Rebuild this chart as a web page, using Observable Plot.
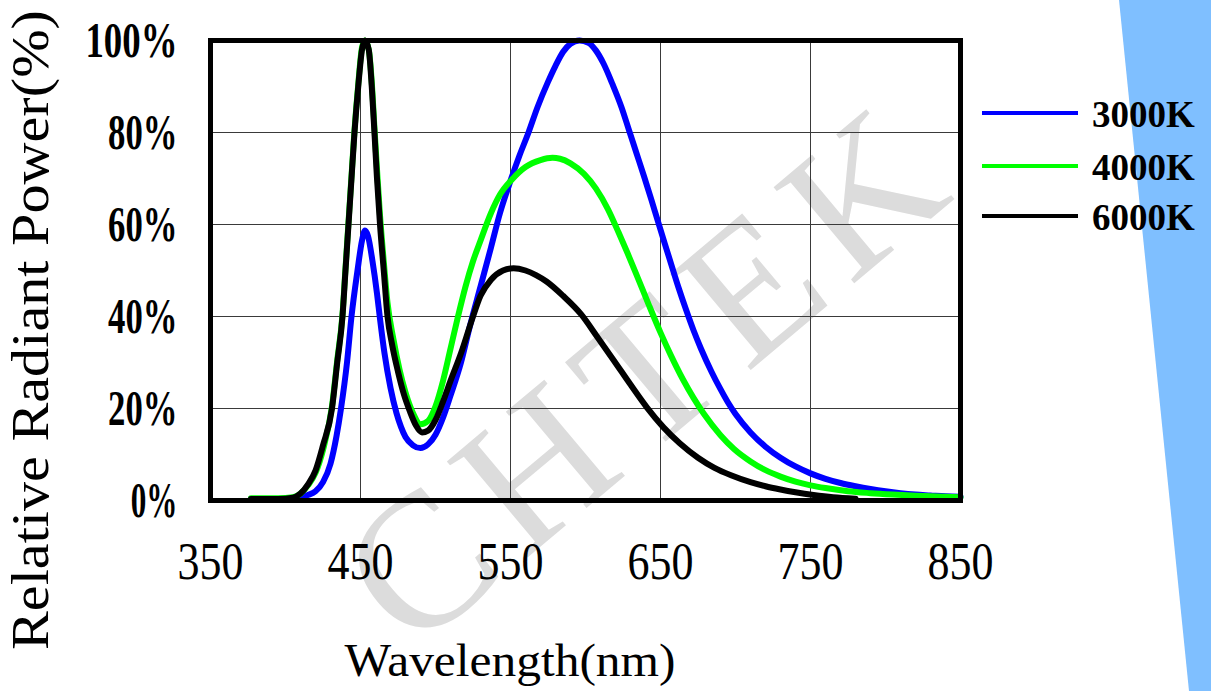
<!DOCTYPE html>
<html>
<head>
<meta charset="utf-8">
<script src="https://cdn.jsdelivr.net/npm/d3@7"></script>
<script src="https://cdn.jsdelivr.net/npm/@observablehq/plot@0.6"></script>
<style>
  html, body { margin: 0; padding: 0; background: white; }
  #chart { width: 1211px; height: 691px; overflow: hidden; }
</style>
</head>
<body>
<div id="chart"></div>
<script>
// ---- data ----
const seriesNames = ["3000K", "4000K", "6000K"];
const seriesColors = ["#0000ff", "#00ff00", "#000000"];

const wl3000 = [377,385,395,405,410,415,420,425,430,434,437,441,444,448,451,453,455,458,461,463,466,470,474,477,480,485,490,495,500,505,510,517,523,530,537,543,550,556,562,568,575,580,585,590,596,602,607,612,618,624,629,634,639,644,648,653,657,662,667,672,677,684,690,695,700,710,720,730,740,750,760,770,780,790,800,810,820,830,840,850];
const val3000 = [0.3,0.3,0.3,0.4,0.7,1.2,2,4,8,14,20,30,40,50,56.5,58.7,57.5,52,45,39.5,32,24.5,19,16,13.8,12,11.4,12.2,14.3,18,22.8,30,38,46.5,55,62.5,69.5,75,80,85.5,91,94.5,97.5,99.3,100,99.5,97.8,95,90.5,85.5,80.5,75.5,70.5,65.3,61,55.7,51.5,46.3,41.5,37,33,28,24.2,21.3,18.8,14.8,11.7,9.3,7.4,5.9,4.7,3.8,3.1,2.5,2,1.6,1.3,1.1,0.9,0.8];

const wl4000 = [377,385,395,405,410,415,420,425,431,434.5,438,440,442,444,446,448.5,451,453,455.5,457.5,459.3,461,463,465.5,468,472,476,480,485,490,495,500,505,510,515,520,525,530,537,543,551,560,570,578,583,590,599,607,615,622,628,635,642,650,657,665,672,679,690,699,710,720,730,740,750,760,775,790,805,820,835,850];
const val4000 = [0.5,0.5,0.5,0.7,1.5,3.3,6,11,20.5,30.5,40.5,50.5,60.5,70.5,80.5,90.5,98.5,100,98,91,81,72,62,52,43,35,28.5,23.5,19,16.6,17.3,20.5,26,33,40,46.5,52,56.5,62.5,66.5,69.8,72.5,74,74.5,74.3,73.3,71,67.8,63.3,58.3,53.8,48.3,42.7,36.5,31.5,26.3,22.3,18.8,14.2,11.2,8.5,6.6,5.2,4.1,3.3,2.7,2,1.6,1.3,1.05,0.85,0.7];

const wl6000 = [377,385,395,405,410,415,420,425,431,434.5,438,440,442,444,446,448.5,451,453,455.5,457.5,459.3,461,463,465.5,468,471,475,479,483,487,491,495,500,505,510,517,524,530,537,545,552,560,567,574,585,597,608,619,630,641,652,663,675,686,697,710,720,730,740,752,765,780];
const val6000 = [0.3,0.3,0.3,0.6,1.5,3.5,6.5,12,20,30,40,50,60,70,80,90,98,100,98,90,80,70,60,50,40,34,28,23,19.3,16.3,14.8,15.2,17.5,21.5,26,32,39,44.5,48,50,50.5,50,49,47.6,44.5,40.5,35.5,30.4,25.2,20.2,15.9,12.4,9.3,7.1,5.5,4,3.1,2.4,1.8,1.2,0.7,0.4];

const xTicks = [350, 450, 550, 650, 750, 850];
const yTicks = [0, 20, 40, 60, 80, 100];
const xTitle = "Wavelength(nm)";
const yTitle = "Relative Radiant Power(%)";
const watermarkText = "CHTEK";

// ---- build table ----
const wls = [wl3000, wl4000, wl6000];
const vals = [val3000, val4000, val6000];
const data = [];
seriesNames.forEach((name, i) => {
  wls[i].forEach((w, j) => data.push({series: name, wl: w, value: vals[i][j]}));
});

const W = 1211, H = 691;
const plot = Plot.plot({
  width: W,
  height: H,
  marginLeft: 210,
  marginRight: 251,
  marginTop: 40,
  marginBottom: 191,
  style: {background: "transparent", fontFamily: "'Liberation Serif', serif", color: "black"},
  x: {domain: [350, 850]},
  y: {domain: [0, 100]},
  color: {domain: seriesNames, range: seriesColors},
  marks: [
    Plot.gridX(xTicks.slice(1, -1), {stroke: "#3a3a3a", strokeOpacity: 1, strokeWidth: 1}),
    Plot.gridY(yTicks.slice(1, -1), {stroke: "#3a3a3a", strokeOpacity: 1, strokeWidth: 1}),
    Plot.axisX({ticks: xTicks, tickSize: 0, tickPadding: 42, fontSize: 52, label: null, tickFormat: d => String(d)}),
    Plot.axisY({ticks: yTicks, tickSize: 0, tickPadding: 33, fontSize: 50, label: null, tickFormat: d => d + "%"}),
    Plot.line(data, {x: "wl", y: "value", z: "series", stroke: "series", strokeWidth: 6, curve: "monotone-x", strokeLinejoin: "round", strokeLinecap: "round"}),
    Plot.frame({stroke: "black", strokeWidth: 5})
  ]
});

document.getElementById("chart").appendChild(plot);
const svg = d3.select(plot);

// background decorations (blue stripe + watermark), inserted beneath everything
const bg = svg.insert("g", ":first-child").attr("aria-label", "background");
bg.append("polygon")
  .attr("points", `1119,0 ${W},0 ${W},${H} 1189,${H}`)
  .attr("fill", "#7fbfff");
let wmSize = 235;
const wm = bg.append("text")
  .attr("transform", "translate(650,372) rotate(-40)")
  .attr("font-family", "'Liberation Serif', serif")
  .attr("fill", "#dcdcdc")
  .attr("text-anchor", "middle")
  .attr("dy", "0.33em")
  .attr("letter-spacing", 18)
  .attr("font-size", wmSize)
  .text(watermarkText);
// keep the watermark inside the picture
{
  const svgRect = plot.getBoundingClientRect();
  for (let k = 0; k < 20; k++) {
    const r = wm.node().getBoundingClientRect();
    const l = r.left - svgRect.left, t = r.top - svgRect.top;
    if (l >= 2 && t >= 2 && l + r.width <= W - 2 && t + r.height <= H - 2) break;
    wmSize *= 0.96;
    wm.attr("font-size", wmSize);
  }
}

// condense tick labels like the reference
svg.selectAll('g[aria-label="x-axis tick label"] text')
  .attr("textLength", function() { return 22 * this.textContent.length; })
  .attr("lengthAdjust", "spacingAndGlyphs");
svg.selectAll('g[aria-label="y-axis tick label"] text')
  .attr("font-weight", "bold")
  .attr("textLength", function() { const t = this.textContent; return 22.7 * (t.length - 1) + 24; })
  .attr("lengthAdjust", "spacingAndGlyphs");

// axis titles
svg.append("text")
  .attr("transform", "translate(48,330) rotate(-90)")
  .attr("text-anchor", "middle")
  .attr("font-family", "'Liberation Serif', serif")
  .attr("font-size", 52)
  .attr("fill", "black")
  .attr("textLength", 640)
  .attr("lengthAdjust", "spacingAndGlyphs")
  .text(yTitle);
svg.append("text")
  .attr("x", 510).attr("y", 676)
  .attr("text-anchor", "middle")
  .attr("font-family", "'Liberation Serif', serif")
  .attr("font-size", 46)
  .attr("fill", "black")
  .attr("textLength", 331)
  .attr("lengthAdjust", "spacingAndGlyphs")
  .text(xTitle);

// legend
const lg = svg.append("g").attr("aria-label", "legend");
const legendY = [113, 166, 216];
seriesNames.forEach((name, i) => {
  lg.append("line")
    .attr("x1", 982).attr("x2", 1078)
    .attr("y1", legendY[i]).attr("y2", legendY[i])
    .attr("stroke", seriesColors[i]).attr("stroke-width", 4);
  lg.append("text")
    .attr("x", 1092).attr("y", legendY[i] + 14)
    .attr("text-anchor", "start")
    .attr("font-family", "'Liberation Serif', serif")
    .attr("font-weight", "bold")
    .attr("font-size", 37)
    .attr("fill", "black")
    .text(name);
});
</script>
</body>
</html>
